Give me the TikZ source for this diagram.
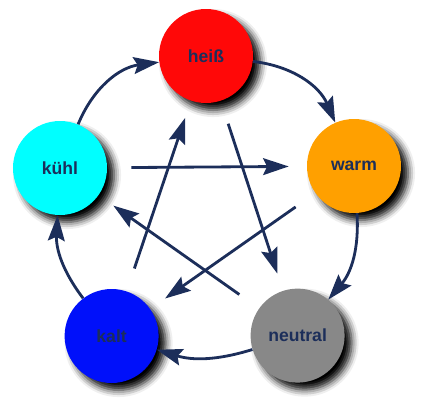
\documentclass[tikz,border=0pt]{standalone}
\usepackage{fontspec}
\setsansfont{Liberation Sans}
\usepackage{xcolor}
\usepackage{tikz}
\usetikzlibrary{arrows.meta,shadows.blur}

\definecolor{navy}{RGB}{28,46,90}
\definecolor{heisscol}{RGB}{255,8,8}
\definecolor{warmcol}{RGB}{255,160,0}
\definecolor{neutralcol}{RGB}{136,136,136}
\definecolor{kaltcol}{RGB}{0,16,250}
\definecolor{kuehlcol}{RGB}{0,255,255}

\begin{document}
\begin{tikzpicture}[
    font=\sffamily\bfseries\fontsize{12.5}{15}\selectfont,
    ball/.style={circle,minimum size=2.35cm,inner sep=0pt,text=navy,
        blur shadow={shadow xshift=5pt,shadow yshift=-5pt,
            shadow blur radius=5pt,shadow opacity=100}},
    flow/.style={-{Stealth[length=6.4mm,width=4.2mm,inset=1mm]},line width=2pt,navy},
    cross/.style={flow,shorten <=0.6cm,shorten >=0.45cm},
]
    \path[use as bounding box] (-5.15,-5.0) rectangle (5.6,5.3);

    \node[ball,fill=heisscol]   (heiss)   at (0,3.9)       {heiß};
    \node[ball,fill=warmcol]    (warm)    at (3.70,1.15)   {warm};
    \node[ball,fill=neutralcol] (neutral) at (2.29,-3.09)  {neutral};
    \node[ball,fill=kaltcol]    (kalt)    at (-2.36,-3.10) {kalt};
    \node[ball,fill=kuehlcol]   (kuehl)   at (-3.65,1.10)  {kühl};

    % outer cycle
    \draw[flow] (heiss) to[bend left=30] (warm);
    \draw[flow] (warm) to[bend left=22] (neutral);
    \draw[flow] (neutral) to[bend left=17] (kalt);
    \draw[flow] (kalt) to[bend left=20] (kuehl);
    \draw[flow] (kuehl) to[bend left=30] (heiss);

    % inner star
    \draw[cross] (kuehl) -- (warm);
    \draw[cross] (warm) -- (kalt);
    \draw[cross] (kalt) -- (heiss);
    \draw[cross] (heiss) -- (neutral);
    \draw[cross] (neutral) -- (kuehl);
\end{tikzpicture}
\end{document}
